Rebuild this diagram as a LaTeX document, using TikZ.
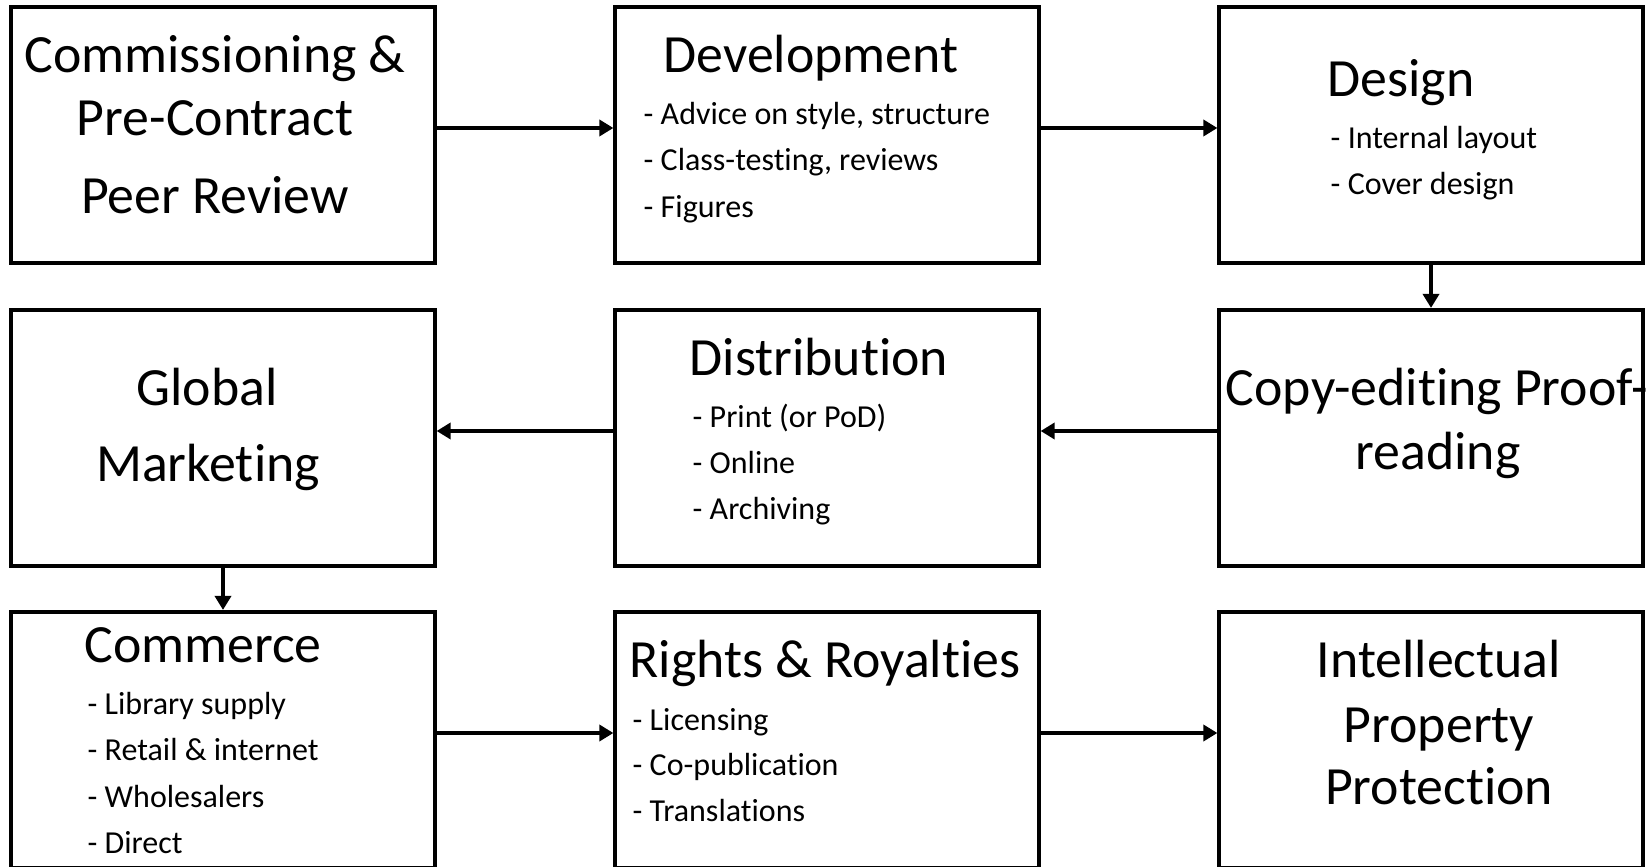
\documentclass[tikz,border=0pt]{standalone}
\usepackage{fontspec}
\setmainfont{Carlito}[Ligatures=NoCommon]
\usetikzlibrary{arrows.meta,positioning}

\begin{document}
\begin{tikzpicture}[x=0.01cm, y=-0.01cm, >={Triangle[length=4pt,width=4.6pt]},
    box/.style={draw=black, line width=1.15pt, minimum width=4.23cm,
                minimum height=2.56cm, inner sep=0pt},
    head/.style={font=\fontsize{15.3}{18}\selectfont, anchor=base, inner sep=0pt},
    item/.style={font=\fontsize{9.1}{11}\selectfont, anchor=base west, inner sep=0pt},
    flow/.style={->, line width=0.95pt}]
  \useasboundingbox (0,0) rectangle (1652,867);

  % stage boxes
  \node[box] (commission) at (223,135) {};
  \node[box] (develop) at (827,135) {};
  \node[box] (design) at (1431,135) {};
  \node[box] (marketing) at (223,438) {};
  \node[box] (distrib) at (827,438) {};
  \node[box] (copyedit) at (1431,438) {};
  \node[box] (commerce) at (223,740) {};
  \node[box] (rights) at (827,740) {};
  \node[box] (ipp) at (1431,740) {};

  % texts, row 1
  \node[head] (commissionA) at (215,73) {Commissioning \&};
  \node[head] (commissionB) at (215,136) {Pre-Contract};
  \node[head] (commissionC) at (215,213) {Peer Review};
  \node[head] (developT) at (811,73) {Development};
  \node[item] (developA) at (643,125) {- Advice on style, structure};
  \node[item] (developB) at (643,171) {- Class-testing, reviews};
  \node[item] (developC) at (643,218) {- Figures};
  \node[head] (designT) at (1401,97) {Design};
  \node[item] (designA) at (1330,149) {- Internal layout};
  \node[item] (designB) at (1330,195) {- Cover design};

  % texts, row 2
  \node[head] (marketingA) at (207,405) {Global};
  \node[head] (marketingB) at (208,481) {Marketing};
  \node[head] (distribT) at (819,375) {Distribution};
  \node[item] (distribA) at (692,427) {- Print (or PoD)};
  \node[item] (distribB) at (692,473) {- Online};
  \node[item] (distribC) at (692,519) {- Archiving};
  \node[head] (copyeditA) at (1437,405) {Copy-editing Proof-};
  \node[head] (copyeditB) at (1438,469) {reading};

  % texts, row 3
  \node[head] (commerceT) at (203,662) {Commerce};
  \node[item] (commerceA) at (87,714) {- Library supply};
  \node[item] (commerceB) at (87,760) {- Retail \& internet};
  \node[item] (commerceC) at (87,807) {- Wholesalers};
  \node[item] (commerceD) at (87,853) {- Direct};
  \node[head] (rightsT) at (825,677) {Rights \& Royalties};
  \node[item] (rightsA) at (632,730) {- Licensing};
  \node[item] (rightsB) at (632,775) {- Co-publication};
  \node[item] (rightsC) at (632,821) {- Translations};
  \node[head] (ippA) at (1439,677) {Intellectual};
  \node[head] (ippB) at (1439,742) {Property};
  \node[head] (ippC) at (1439,804) {Protection};

  % connectors
  \draw[flow] ([yshift=0.07cm]commission.east) -- ([yshift=0.07cm]develop.west);
  \draw[flow] ([yshift=0.07cm]develop.east) -- ([yshift=0.07cm]design.west);
  \draw[flow] (design.south) -- (copyedit.north);
  \draw[flow] ([yshift=0.07cm]copyedit.west) -- ([yshift=0.07cm]distrib.east);
  \draw[flow] ([yshift=0.07cm]distrib.west) -- ([yshift=0.07cm]marketing.east);
  \draw[flow] (marketing.south) -- (commerce.north);
  \draw[flow] ([yshift=0.07cm]commerce.east) -- ([yshift=0.07cm]rights.west);
  \draw[flow] ([yshift=0.07cm]rights.east) -- ([yshift=0.07cm]ipp.west);
\end{tikzpicture}
\end{document}
